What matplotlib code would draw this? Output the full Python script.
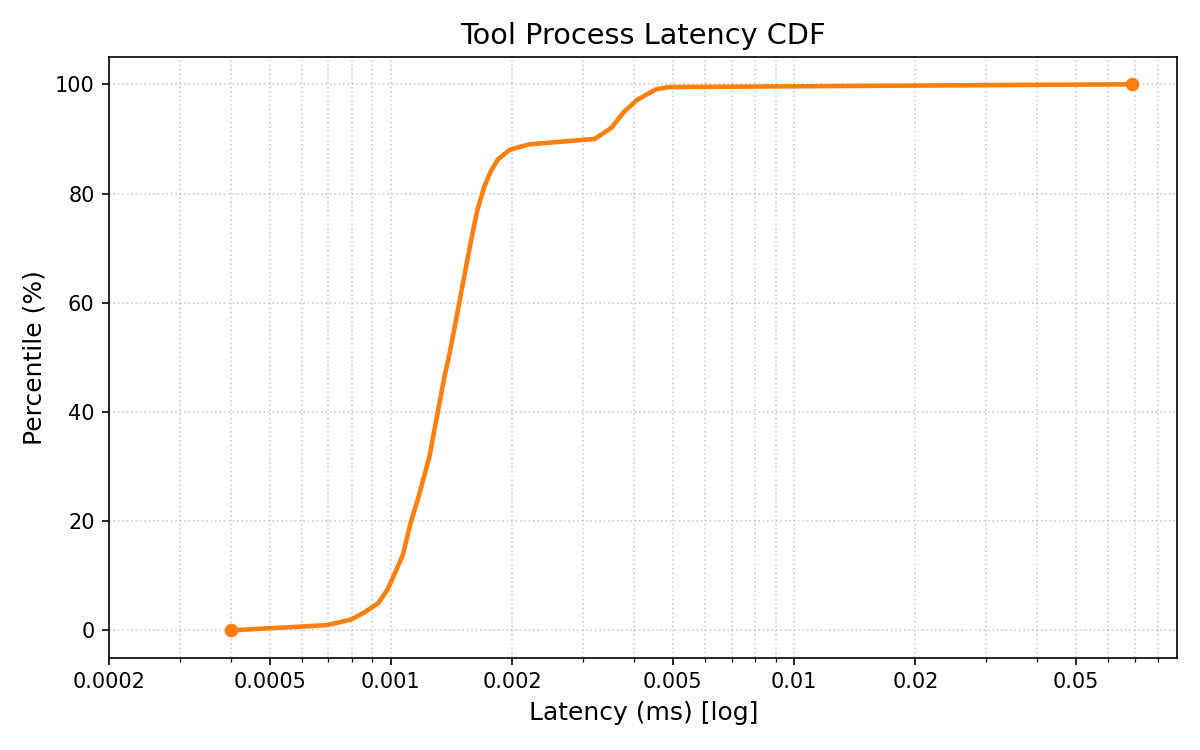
import matplotlib
matplotlib.use("Agg")
import matplotlib.pyplot as plt

# latency (ms) at each percentile step
latency_ms = [
    0.000400, 0.000500, 0.000600, 0.000697, 0.000796, 0.000859, 0.000930,
    0.000981, 0.001020, 0.001070, 0.001120, 0.001166, 0.001245, 0.001280,
    0.001318, 0.001356, 0.001396, 0.001450, 0.001480, 0.001536, 0.001595,
    0.001640, 0.001705, 0.001770, 0.001840, 0.001970, 0.002200, 0.003200,
    0.003520, 0.003790, 0.004090, 0.004550, 0.004910, 0.069000,
]
percentile = [
    0.0, 0.4, 0.7, 1.0, 2.0, 3.3, 5.0,
    7.5, 10.3, 13.8, 19.8, 24.0, 31.7, 36.5,
    41.4, 46.3, 50.5, 56.8, 60.3, 66.6, 72.9,
    77.1, 81.3, 84.1, 86.2, 88.0, 89.0, 90.0,
    92.0, 95.0, 97.2, 99.1, 99.5, 100.0,
]
tick_values = [0.0002, 0.0005, 0.001, 0.002, 0.005, 0.01, 0.02, 0.05]
tick_labels = ["0.0002", "0.0005", "0.001", "0.002", "0.005", "0.01", "0.02", "0.05"]


def main():
    fig, ax = plt.subplots(figsize=(8, 5), dpi=150)
    ax.plot(latency_ms, percentile, color="#ff7f0e", linewidth=2.2,
            marker="o", markersize=5.5, markevery=[0, len(latency_ms) - 1])
    ax.set_xscale("log")
    ax.set_xlim(left=2e-4)
    ax.set_ylim(-5, 105)
    ax.set_xticks(tick_values)
    ax.set_xticklabels(tick_labels)
    ax.grid(True, which="both", linestyle=":", linewidth=0.8, alpha=0.6)
    ax.set_title("Tool Process Latency CDF", fontsize=13.8)
    ax.set_xlabel("Latency (ms) [log]", fontsize=12)
    ax.set_ylabel("Percentile (%)", fontsize=12)
    fig.subplots_adjust(left=0.091, right=0.981, top=0.924, bottom=0.123)
    fig.savefig("out.png", dpi=150)
    plt.close(fig)


if __name__ == "__main__":
    main()
